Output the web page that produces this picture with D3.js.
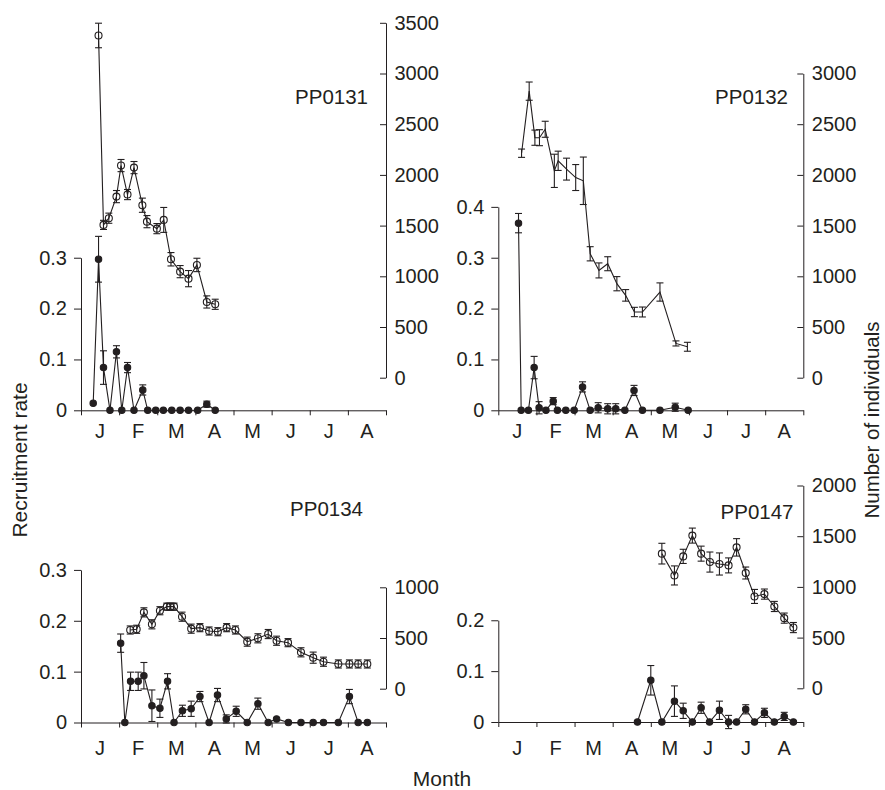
<!DOCTYPE html>
<html>
<head>
<meta charset="utf-8">
<script src="https://cdn.jsdelivr.net/npm/d3@7"></script>
<style>
  body { margin: 0; background: #fff; }
  svg text { font-family: "Liberation Sans", Arial, Helvetica, sans-serif; fill: #231f20; }
</style>
</head>
<body>
<svg id="chart" width="885" height="790"></svg>
<script>
// month labels (Jan .. Aug), x values are in months since Jan 1
var monthLabels = ["J", "F", "M", "A", "M", "J", "J", "A"];
var panelNames = ["PP0131", "PP0132", "PP0134", "PP0147"];

// PP0131
var pp0131CountMonth = [0.46, 0.59, 0.73, 0.93, 1.05, 1.22, 1.39, 1.61, 1.73, 1.99, 2.17, 2.36, 2.60, 2.82, 3.04, 3.30, 3.52];
var pp0131Count      = [3375, 1507, 1573, 1786, 2092, 1806, 2072, 1701, 1539, 1470, 1556, 1168, 1046, 977, 1112, 747, 724];
var pp0131CountErr   = [121, 45, 50, 60, 60, 50, 60, 70, 60, 50, 123, 66, 60, 80, 66, 60, 50];
var pp0131RateMonth  = [0.32, 0.46, 0.59, 0.76, 0.93, 1.07, 1.22, 1.39, 1.62, 1.75, 1.96, 2.16, 2.38, 2.60, 2.82, 3.06, 3.30, 3.52];
var pp0131Rate       = [0.014, 0.297, 0.084, 0, 0.115, 0, 0.084, 0, 0.040, 0, 0, 0, 0, 0, 0, 0, 0.012, 0];
var pp0131RateErr    = [0, 0.045, 0.033, 0, 0.012, 0, 0.010, 0, 0.010, 0, 0, 0, 0, 0, 0, 0, 0.006, 0];

// PP0132
var pp0132CountMonth = [0.61, 0.81, 0.96, 1.08, 1.23, 1.47, 1.57, 1.79, 2.03, 2.23, 2.41, 2.64, 2.87, 3.11, 3.34, 3.57, 3.78, 4.24, 4.66, 4.96];
var pp0132Count      = [2214, 2826, 2367, 2367, 2450, 2040, 2139, 2057, 1974, 1942, 1222, 1058, 1124, 927, 812, 648, 648, 845, 338, 305];
var pp0132CountErr   = [41, 90, 75, 79, 79, 164, 95, 108, 128, 234, 70, 74, 69, 70, 57, 46, 49, 90, 25, 44];
var pp0132RateMonth  = [0.53, 0.60, 0.79, 0.94, 1.07, 1.25, 1.44, 1.55, 1.77, 1.99, 2.21, 2.41, 2.62, 2.87, 3.08, 3.32, 3.56, 3.78, 4.24, 4.64, 4.98];
var pp0132Rate       = [0.368, 0, 0, 0.084, 0.005, 0, 0.018, 0, 0, 0, 0.046, 0, 0.005, 0.003, 0.003, 0, 0.039, 0, 0, 0.006, 0];
var pp0132RateErr    = [0.019, 0, 0, 0.022, 0.012, 0, 0.007, 0, 0, 0, 0.010, 0, 0.010, 0.010, 0.010, 0, 0.010, 0, 0, 0.008, 0];

// PP0134
var pp0134CountMonth = [1.29, 1.46, 1.65, 1.86, 2.07, 2.25, 2.34, 2.44, 2.65, 2.89, 3.12, 3.36, 3.59, 3.82, 4.05, 4.36, 4.64, 4.91, 5.13, 5.43, 5.77, 6.09, 6.36, 6.75, 7.04, 7.27, 7.51];
var pp0134Count      = [579, 586, 753, 635, 769, 809, 809, 809, 710, 592, 602, 569, 562, 602, 579, 464, 497, 539, 473, 454, 359, 306, 266, 244, 244, 244, 244];
var pp0134CountErr   = [40, 40, 45, 45, 40, 35, 35, 35, 45, 45, 40, 40, 40, 40, 40, 45, 45, 45, 45, 40, 45, 55, 45, 40, 40, 40, 40];
var pp0134RateMonth  = [1.04, 1.15, 1.30, 1.50, 1.65, 1.86, 2.07, 2.27, 2.44, 2.66, 2.89, 3.12, 3.36, 3.58, 3.81, 4.07, 4.36, 4.64, 4.91, 5.13, 5.44, 5.77, 6.09, 6.36, 6.75, 7.04, 7.27, 7.51];
var pp0134Rate       = [0.156, 0, 0.081, 0.081, 0.092, 0.033, 0.028, 0.081, 0, 0.023, 0.027, 0.051, 0, 0.054, 0.007, 0.022, 0, 0.037, 0, 0.007, 0, 0, 0, 0, 0, 0.051, 0, 0];
var pp0134RateErr    = [0.018, 0, 0.018, 0.018, 0.026, 0.031, 0.018, 0.015, 0, 0.011, 0.015, 0.010, 0, 0.013, 0.008, 0.010, 0, 0.011, 0, 0, 0, 0, 0, 0, 0, 0.014, 0, 0];

// PP0147
var pp0147CountMonth = [4.29, 4.62, 4.85, 5.09, 5.32, 5.55, 5.80, 6.04, 6.25, 6.49, 6.72, 6.98, 7.24, 7.50, 7.74];
var pp0147Count      = [1328, 1113, 1301, 1506, 1328, 1245, 1226, 1212, 1390, 1137, 906, 929, 807, 692, 599];
var pp0147CountErr   = [102, 94, 70, 74, 74, 99, 109, 74, 86, 59, 69, 50, 50, 50, 50];
var pp0147RateMonth  = [3.65, 4.00, 4.29, 4.62, 4.85, 5.09, 5.32, 5.54, 5.80, 6.04, 6.25, 6.49, 6.72, 6.98, 7.24, 7.50, 7.74];
var pp0147Rate       = [0, 0.082, 0, 0.041, 0.022, 0, 0.028, 0, 0.023, 0, 0, 0.025, 0, 0.018, 0, 0.011, 0];
var pp0147RateErr    = [0, 0.029, 0, 0.030, 0.015, 0, 0.011, 0, 0.018, 0.013, 0, 0.009, 0, 0.009, 0, 0.008, 0];

var rateTicks = [[0, 0.1, 0.2, 0.3], [0, 0.1, 0.2, 0.3, 0.4], [0, 0.1, 0.2, 0.3], [0, 0.1, 0.2]];
var countTicks = [d3.range(0, 3501, 500), d3.range(0, 3001, 500), d3.range(0, 1001, 500), d3.range(0, 2001, 500)];

var series = [
  {cm: pp0131CountMonth, c: pp0131Count, ce: pp0131CountErr, rm: pp0131RateMonth, r: pp0131Rate, re: pp0131RateErr, marker: true},
  {cm: pp0132CountMonth, c: pp0132Count, ce: pp0132CountErr, rm: pp0132RateMonth, r: pp0132Rate, re: pp0132RateErr, marker: false},
  {cm: pp0134CountMonth, c: pp0134Count, ce: pp0134CountErr, rm: pp0134RateMonth, r: pp0134Rate, re: pp0134RateErr, marker: true},
  {cm: pp0147CountMonth, c: pp0147Count, ce: pp0147CountErr, rm: pp0147RateMonth, r: pp0147Rate, re: pp0147RateErr, marker: true}
];

// layout of the four panels (pixels)
var layout = [
  {left: 81,    bottom: 410.3, shift: 32.6, labelX: 368,   labelY: 103.5, monthY: 28},
  {left: 498.3, bottom: 410.3, shift: 32.6, labelX: 788,   labelY: 103.5, monthY: 28},
  {left: 81,    bottom: 722.5, shift: 33.8, labelX: 363,   labelY: 515.5, monthY: 32.5},
  {left: 498.3, bottom: 722,   shift: 33.7, labelX: 793.5, labelY: 519,   monthY: 32.5}
];
var plotW = 305;
var ratePx = 508.6;   // px per unit of rate
var countPx = 0.1014; // px per individual
var ink = "#231f20";

var svg = d3.select("#chart");

function rateFmt(d) { return d === 0 ? "0" : d.toFixed(1); }

layout.forEach(function (L, i) {
  var s = series[i];
  var g = svg.append("g");

  var x = d3.scaleLinear().domain([0, 8]).range([L.left, L.left + plotW]);
  var rMax = d3.max(rateTicks[i]);
  var cMax = d3.max(countTicks[i]);
  var yR = d3.scaleLinear().domain([0, rMax]).range([L.bottom, L.bottom - rMax * ratePx]);
  var c0 = L.bottom - L.shift;
  var yC = d3.scaleLinear().domain([0, cMax]).range([c0, c0 - cMax * countPx]);

  // axes
  var ax = g.append("g").attr("transform", "translate(" + L.left + ",0)")
    .call(d3.axisLeft(yR).tickValues(rateTicks[i]).tickFormat(rateFmt).tickSizeInner(7).tickSizeOuter(0).tickPadding(7));
  var ay = g.append("g").attr("transform", "translate(" + (L.left + plotW) + ",0)")
    .call(d3.axisRight(yC).tickValues(countTicks[i]).tickFormat(d3.format("d")).tickSizeInner(-6).tickSizeOuter(0).tickPadding(8.5));
  var ab = g.append("g").attr("transform", "translate(0," + L.bottom + ")")
    .call(d3.axisBottom(x).tickValues(d3.range(0, 9)).tickFormat("").tickSizeInner(5).tickSizeOuter(0));

  [ax, ay, ab].forEach(function (a) {
    a.selectAll("path, line").attr("stroke", ink).attr("stroke-width", 1);
    a.selectAll("text").attr("font-size", 20).attr("fill", ink)
      .style("font-family", '"Liberation Sans", Arial, sans-serif');
  });

  g.selectAll("text.month").data(monthLabels).enter().append("text")
    .attr("class", "month")
    .attr("x", function (d, k) { return x(k + 0.5); })
    .attr("y", L.bottom + L.monthY)
    .attr("text-anchor", "middle")
    .attr("font-size", 20)
    .text(function (d) { return d; });

  g.append("text").attr("x", L.labelX).attr("y", L.labelY)
    .attr("text-anchor", "end").attr("font-size", 20.5).text(panelNames[i]);

  // counts are open circles, rates filled dots
  var cData = s.cm.map(function (m, k) { return {m: m, v: s.c[k], e: s.ce[k]}; });
  var rData = s.rm.map(function (m, k) { return {m: m, v: s.r[k], e: s.re[k]}; });

  function draw(data, y, filled, marker) {
    g.append("path").datum(data)
      .attr("fill", "none").attr("stroke", ink).attr("stroke-width", 1.1)
      .attr("d", d3.line().x(function (d) { return x(d.m); }).y(function (d) { return y(d.v); }));

    var eb = g.append("g").selectAll("g").data(data.filter(function (d) { return d.e > 0; })).enter().append("g");
    eb.append("line")
      .attr("x1", function (d) { return x(d.m); }).attr("x2", function (d) { return x(d.m); })
      .attr("y1", function (d) { return y(d.v - d.e); }).attr("y2", function (d) { return y(d.v + d.e); });
    eb.append("line")
      .attr("x1", function (d) { return x(d.m) - 3.5; }).attr("x2", function (d) { return x(d.m) + 3.5; })
      .attr("y1", function (d) { return y(d.v + d.e); }).attr("y2", function (d) { return y(d.v + d.e); });
    eb.append("line")
      .attr("x1", function (d) { return x(d.m) - 3.5; }).attr("x2", function (d) { return x(d.m) + 3.5; })
      .attr("y1", function (d) { return y(d.v - d.e); }).attr("y2", function (d) { return y(d.v - d.e); });
    eb.selectAll("line").attr("stroke", ink).attr("stroke-width", 1.1);

    if (!marker) return;
    g.append("g").selectAll("circle").data(data).enter().append("circle")
      .attr("cx", function (d) { return x(d.m); })
      .attr("cy", function (d) { return y(d.v); })
      .attr("r", filled ? 3.2 : 3.5)
      .attr("fill", filled ? ink : "none")
      .attr("stroke", ink).attr("stroke-width", 1.1);
  }

  draw(cData, yC, false, s.marker);
  draw(rData, yR, true, true);
});

svg.append("text")
  .attr("transform", "translate(27,460) rotate(-90)")
  .attr("text-anchor", "middle").attr("font-size", 21)
  .text("Recruitment rate");

svg.append("text")
  .attr("transform", "translate(879,420) rotate(-90)")
  .attr("text-anchor", "middle").attr("font-size", 20.5)
  .text("Number of individuals");

svg.append("text")
  .attr("x", 442).attr("y", 786)
  .attr("text-anchor", "middle").attr("font-size", 21)
  .text("Month");
</script>
</body>
</html>
